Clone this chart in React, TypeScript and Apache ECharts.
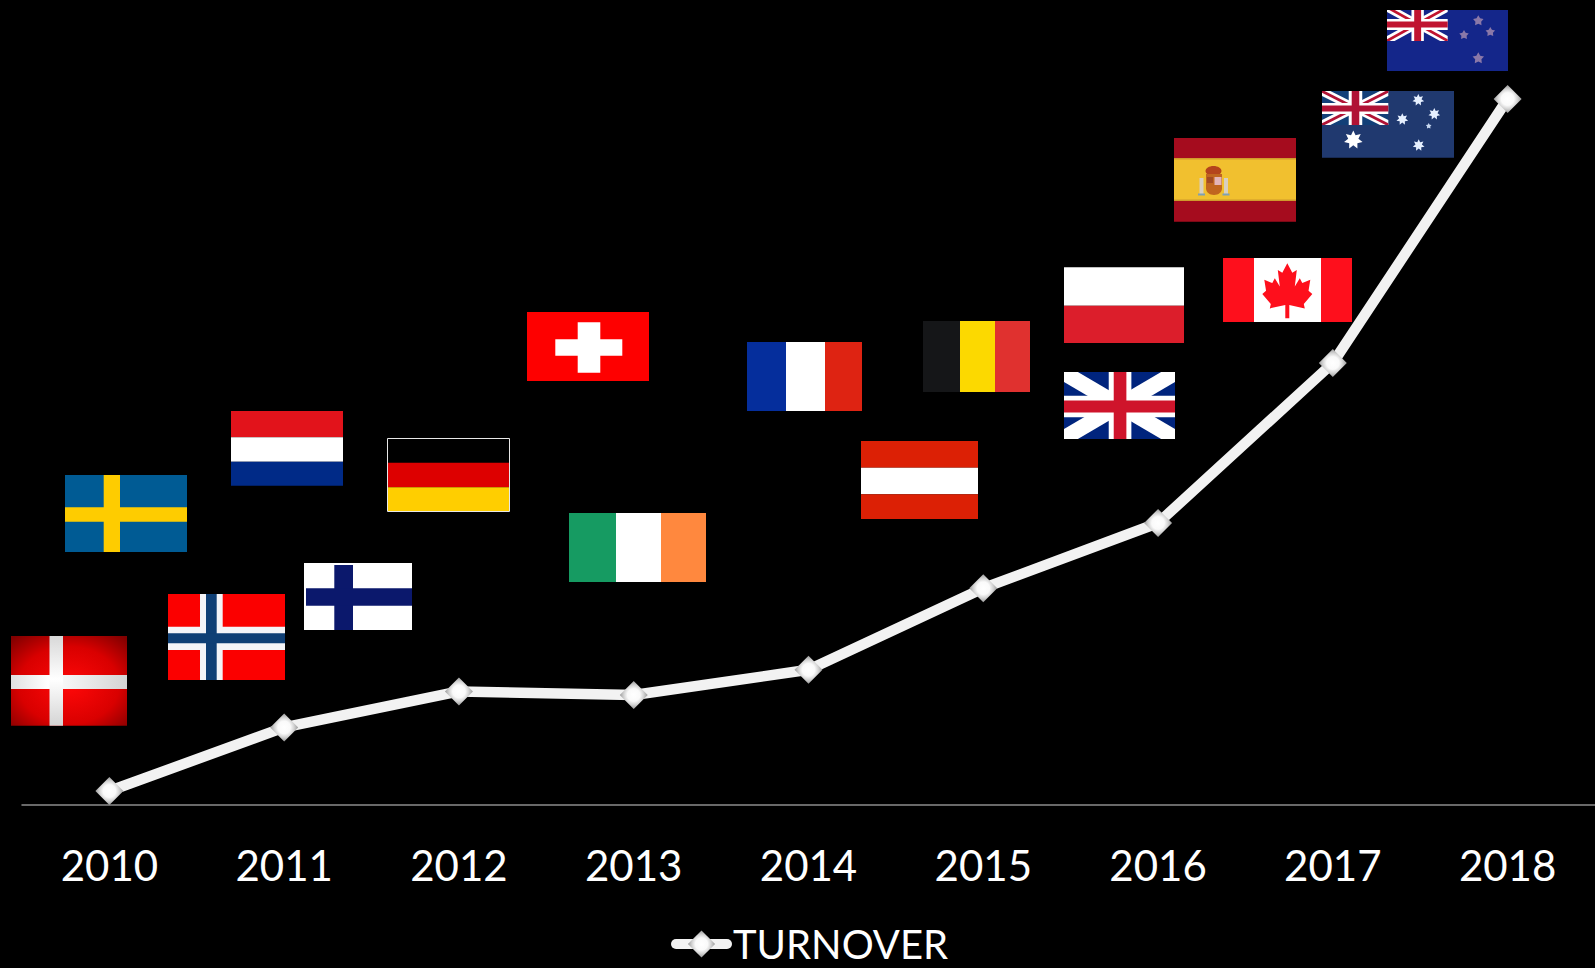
import React, { useEffect, useRef } from "react";
import * as echarts from "echarts";

const years = ["2010", "2011", "2012", "2013", "2014", "2015", "2016", "2017", "2018"];
const turnover = [1.75, 9.7, 14.2, 13.75, 16.9, 27.1, 35.25, 55.25, 88.25];
const seriesName = "TURNOVER";

type Box = { x0: number; y0: number; x1: number; y1: number };

const rect = (x0: number, y0: number, x1: number, y1: number, fill: any, extra: any = {}) => ({
  type: "rect",
  shape: { x: x0, y: y0, width: x1 - x0, height: y1 - y0 },
  style: { fill, ...extra },
  silent: true,
});

const poly = (points: number[][], fill: any) => ({
  type: "polygon",
  shape: { points },
  style: { fill },
  silent: true,
});

// Five- or seven-pointed star centred on (cx, cy).
const star = (cx: number, cy: number, r: number, fill: string, tips = 5) => {
  const pts: number[][] = [];
  for (let i = 0; i < tips * 2; i++) {
    const a = -Math.PI / 2 + (i * Math.PI) / tips;
    const rr = i % 2 === 0 ? r : r * 0.55;
    pts.push([cx + rr * Math.cos(a), cy + rr * Math.sin(a)]);
  }
  return poly(pts, fill);
};

// Horizontal stripes: stops are the y positions where each colour ends.
const hStripes = (b: Box, stops: number[], colors: string[]) =>
  colors.map((c, i) => rect(b.x0, i === 0 ? b.y0 : stops[i - 1], b.x1, i === colors.length - 1 ? b.y1 : stops[i], c));

const vStripes = (b: Box, stops: number[], colors: string[]) =>
  colors.map((c, i) => rect(i === 0 ? b.x0 : stops[i - 1], b.y0, i === colors.length - 1 ? b.x1 : stops[i], b.y1, c));

const unionJack = (b: Box, blue: string, withDiagonalRed: boolean, redColor = "#cf142b") => {
  const { x0, y0, x1, y1 } = b;
  const w = x1 - x0;
  const h = y1 - y0;
  const cx = x0 + w * 0.505;
  const cy = y0 + h * 0.515;
  const tx = w * 0.125;
  const ty = h * 0.15;
  const rx = w * 0.04;
  const ry = h * 0.05;
  const out: any[] = [rect(x0, y0, x1, y1, blue)];
  out.push(poly([[x0, y0], [x0 + tx, y0], [x1, y1 - ty], [x1, y1], [x1 - tx, y1], [x0, y0 + ty]], "#ffffff"));
  out.push(poly([[x1, y0], [x1 - tx, y0], [x0, y1 - ty], [x0, y1], [x0 + tx, y1], [x1, y0 + ty]], "#ffffff"));
  if (withDiagonalRed) {
    out.push(poly([[x0, y0], [x0 + rx, y0], [x1, y1 - ry], [x1, y1], [x1 - rx, y1], [x0, y0 + ry]], redColor));
    out.push(poly([[x1, y0], [x1 - rx, y0], [x0, y1 - ry], [x0, y1], [x0 + rx, y1], [x1, y0 + ry]], redColor));
  }
  out.push(rect(cx - w * 0.102, y0, cx + w * 0.102, y1, "#ffffff"));
  out.push(rect(x0, cy - h * 0.16, x1, cy + h * 0.16, "#ffffff"));
  out.push(rect(cx - w * 0.057, y0, cx + w * 0.057, y1, redColor));
  out.push(rect(x0, cy - h * 0.09, x1, cy + h * 0.09, redColor));
  return out;
};

const leafRight = [
  [0, 0], [0.2, 0.17], [0.38, 0.12], [0.3, 0.42], [0.5, 0.27], [0.6, 0.36], [0.92, 0.3],
  [0.85, 0.5], [1, 0.56], [0.66, 0.74], [0.7, 0.82], [0.08, 0.76], [0.08, 1],
];

const flagDenmark = (b: Box) => [
  rect(b.x0, b.y0, b.x1, b.y1, {
    type: "radial", x: 0.5, y: 0.55, r: 0.72,
    colorStops: [
      { offset: 0, color: "#ff0808" },
      { offset: 0.6, color: "#d90000" },
      { offset: 1, color: "#800000" },
    ],
  }),
  rect(b.x0, 675, b.x1, 689, {
    type: "linear", x: 0, y: 0, x2: 1, y2: 0,
    colorStops: [
      { offset: 0, color: "#e0e0e0" },
      { offset: 0.32, color: "#ffffff" },
      { offset: 1, color: "#d4d4d4" },
    ],
  }),
  rect(49.5, b.y0, 63, b.y1, {
    type: "linear", x: 0, y: 0, x2: 0, y2: 1,
    colorStops: [
      { offset: 0, color: "#d8d8d8" },
      { offset: 0.48, color: "#ffffff" },
      { offset: 1, color: "#d4d4d4" },
    ],
  }),
];

const flagSweden = (b: Box) => [
  rect(b.x0, b.y0, b.x1, b.y1, "#005b94"),
  rect(103.7, b.y0, 120, b.y1, "#fecc00"),
  rect(b.x0, 507.3, b.x1, 521.7, "#fecc00"),
];

const flagNorway = (b: Box) => [
  rect(b.x0, b.y0, b.x1, b.y1, "#fb0000"),
  rect(200, b.y0, 222.7, b.y1, "#f4f4f8"),
  rect(b.x0, 626.7, b.x1, 650, "#f4f4f8"),
  rect(206, b.y0, 216.7, b.y1, "#0f3f75"),
  rect(b.x0, 633.3, b.x1, 643.3, "#0f3f75"),
];

const flagFinland = (b: Box) => [
  rect(b.x0, b.y0, b.x1, b.y1, "#ffffff"),
  rect(334.3, b.y0 + 2, 353, b.y1, "#0b186c"),
  rect(b.x0 + 2, 588.3, b.x1, 605.7, "#0b186c"),
];

const flagGermany = (b: Box) => [
  rect(b.x0, b.y0, b.x1, b.y1, "#000000", { stroke: "#e8e8e8", lineWidth: 1 }),
  rect(b.x0 + 0.5, 462.7, b.x1 - 0.5, 487.3, "#dd0000"),
  rect(b.x0 + 0.5, 487.3, b.x1 - 0.5, b.y1 - 0.5, "#ffce00"),
];

const flagSwitzerland = (b: Box) => [
  rect(b.x0, b.y0, b.x1, b.y1, "#fe0000"),
  rect(555.3, 339.3, 622.3, 355.7, "#ffffff"),
  rect(577.7, 322.3, 600.3, 372.7, "#ffffff"),
];

const flagCanada = (b: Box) => {
  const cx = 1287.3;
  const top = 263.3;
  const halfW = 25;
  const leafH = 55;
  const right = leafRight.map(([u, v]) => [cx + u * halfW, top + v * leafH]);
  const left = leafRight.slice(1).reverse().map(([u, v]) => [cx - u * halfW, top + v * leafH]);
  return [
    ...vStripes(b, [1254, 1321], ["#fe0f1c", "#ffffff", "#fe0f1c"]),
    poly([...right, ...left], "#fe0f1c"),
  ];
};

const flagSpain = (b: Box) => [
  ...hStripes(b, [158.3, 201], ["#a50c1e", "#f1c02f", "#a50c1e"]),
  rect(b.x0, 158, b.x1, 159.5, "#d09a2c"),
  rect(b.x0, 199.5, b.x1, 201, "#d09a2c"),
  // coat of arms: pillars, crown and shield
  rect(1199.5, 178, 1203.5, 194, "#d8cfc0"),
  rect(1224, 178, 1228, 194, "#d8cfc0"),
  rect(1198, 193.5, 1205, 195.5, "#7ea0b5"),
  rect(1222.5, 193.5, 1229.5, 195.5, "#7ea0b5"),
  { type: "ellipse", shape: { cx: 1213.5, cy: 171, rx: 8, ry: 5 }, style: { fill: "#b4441c" }, silent: true },
  rect(1206, 174, 1222, 189, "#c0651f"),
  { type: "ellipse", shape: { cx: 1214, cy: 188.5, rx: 8, ry: 6.5 }, style: { fill: "#c0651f" }, silent: true },
  rect(1214.5, 177, 1221.5, 185, "#e4b4b8"),
  rect(1207, 177, 1213, 183, "#a24a22"),
];

const flagAustralia = (b: Box) => [
  rect(b.x0, b.y0, b.x1, b.y1, "#20396f"),
  ...unionJack({ x0: b.x0, y0: b.y0, x1: 1388.3, y1: 125 }, "#123f78", true, "#b01235"),
  star(1418.3, 100, 6, "#e6f0ff", 7),
  star(1434.3, 114, 6, "#e6f0ff", 7),
  star(1402.3, 119.3, 6, "#e6f0ff", 7),
  star(1428.7, 126, 3, "#c8d8f0", 5),
  star(1418.7, 145.3, 6, "#e6f0ff", 7),
  star(1353.3, 140, 9.5, "#ffffff", 7),
];

const flagNewZealand = (b: Box) => [
  rect(b.x0, b.y0, b.x1, b.y1, "#14268a"),
  ...unionJack({ x0: b.x0, y0: b.y0 - 3, x1: 1447.7, y1: 41 }, "#14268a", true, "#c01430"),
  rect(b.x0, b.y0 - 5, 1449, b.y0, "#000000"),
  star(1478.3, 20.7, 5.5, "#8a78a8"),
  star(1490.3, 32, 5, "#8a78a8"),
  star(1464, 35, 5, "#8a78a8"),
  star(1478.3, 58.3, 6, "#8a78a8"),
];

const flagBoxes: { draw: (b: Box) => any[]; box: Box }[] = [
  { draw: flagDenmark, box: { x0: 11, y0: 636, x1: 127, y1: 725.7 } },
  { draw: flagSweden, box: { x0: 65, y0: 475, x1: 187, y1: 552 } },
  { draw: flagNorway, box: { x0: 168, y0: 594, x1: 285, y1: 680 } },
  { draw: (b) => hStripes(b, [437.3, 461.7], ["#e2131b", "#ffffff", "#002a87"]), box: { x0: 231, y0: 411, x1: 343, y1: 485.7 } },
  { draw: flagFinland, box: { x0: 304, y0: 563, x1: 412, y1: 630 } },
  { draw: flagGermany, box: { x0: 387.5, y0: 438.5, x1: 509.5, y1: 511.5 } },
  { draw: flagSwitzerland, box: { x0: 527, y0: 312, x1: 649, y1: 381 } },
  { draw: (b) => vStripes(b, [616, 661], ["#169b62", "#ffffff", "#ff883e"]), box: { x0: 569, y0: 513, x1: 706, y1: 582 } },
  { draw: (b) => vStripes(b, [786, 825], ["#052e9c", "#ffffff", "#de2312"]), box: { x0: 747, y0: 342, x1: 862, y1: 411 } },
  { draw: (b) => hStripes(b, [467.7, 494.3], ["#dc2005", "#ffffff", "#dc2005"]), box: { x0: 861, y0: 441, x1: 978, y1: 519 } },
  { draw: (b) => vStripes(b, [960, 995], ["#151618", "#fcd900", "#e0312f"]), box: { x0: 923, y0: 321, x1: 1030, y1: 392 } },
  { draw: (b) => hStripes(b, [305.7], ["#ffffff", "#dc1e2b"]), box: { x0: 1064, y0: 267.3, x1: 1184, y1: 343 } },
  { draw: (b) => unionJack(b, "#00247d", false), box: { x0: 1064, y0: 372, x1: 1175, y1: 439 } },
  { draw: flagCanada, box: { x0: 1223, y0: 258, x1: 1352, y1: 322 } },
  { draw: flagSpain, box: { x0: 1174, y0: 138, x1: 1296, y1: 221.7 } },
  { draw: flagAustralia, box: { x0: 1322, y0: 91, x1: 1454, y1: 157.7 } },
  { draw: flagNewZealand, box: { x0: 1387, y0: 10, x1: 1508, y1: 71 } },
];

const fontFamily = "Lato, 'Open Sans', sans-serif";

export default function App() {
  const ref = useRef<HTMLDivElement>(null);

  useEffect(() => {
    const chart = echarts.init(ref.current!, undefined, { renderer: "svg" });
    chart.setOption({
      animation: false,
      backgroundColor: "#000000",
      grid: { left: 22, top: 5, width: 1573, height: 800 },
      xAxis: {
        type: "category",
        data: years,
        axisLine: { show: true, onZero: false, lineStyle: { color: "#8c8c8c", width: 1.5 } },
        axisTick: { show: false },
        axisLabel: { color: "#ffffff", fontSize: 42, fontFamily, margin: 39 },
      },
      yAxis: { type: "value", min: 0, max: 100, show: false, splitLine: { show: false } },
      legend: {
        show: true,
        left: 671,
        top: 924,
        padding: 0,
        itemWidth: 51,
        itemHeight: 34,
        lineStyle: { width: 10, color: "#f2f2f2", cap: "round" },
        textStyle: { color: "#ffffff", fontSize: 40, lineHeight: 40, fontFamily, padding: [0, 0, 0, 1] },
        data: [seriesName],
      },
      series: [
        {
          name: seriesName,
          type: "line",
          data: turnover,
          symbol: "diamond",
          symbolSize: 28,
          smooth: false,
          lineStyle: { color: "#f2f2f2", width: 10.5, cap: "round" },
          itemStyle: {
            color: {
              type: "radial", x: 0.5, y: 0.5, r: 0.5,
              colorStops: [
                { offset: 0, color: "#ffffff" },
                { offset: 0.45, color: "#fafafa" },
                { offset: 0.7, color: "#d4d4d4" },
                { offset: 1, color: "#9a9a9a" },
              ],
            },
          },
        },
      ],
      graphic: { elements: flagBoxes.map((f) => ({ type: "group", children: f.draw(f.box) })) },
    });
    return () => chart.dispose();
  }, []);

  return <div ref={ref} style={{ position: "fixed", left: 0, top: 0, width: 1595, height: 968 }} />;
}
